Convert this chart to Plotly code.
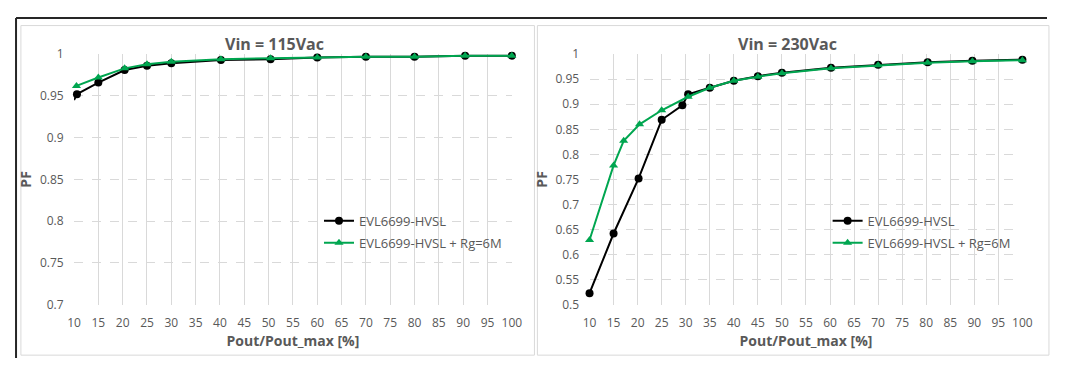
import plotly.graph_objects as go

# ---- Data: Vin = 115Vac ----
x115_lead = [10, 10.6]
pf115_lead = [0.945, 0.952]
x115_base = [10.6, 15, 20.4, 25, 30, 40.2, 50.4, 60, 70, 80, 90.4, 100]
pf115_base = [0.952, 0.966, 0.981, 0.986, 0.989, 0.993, 0.994, 0.996, 0.997, 0.997, 0.998, 0.998]
x115_rg = [10.5, 15, 20.4, 25, 30, 40.2, 50.4, 60, 70, 80, 90.4, 100]
pf115_rg = [0.962, 0.972, 0.983, 0.988, 0.991, 0.994, 0.995, 0.996, 0.997, 0.997, 0.998, 0.998]

# ---- Data: Vin = 230Vac ----
x230_base = [10, 15, 20.2, 25, 29.3, 30.5, 35, 40, 45, 50, 60.2, 70, 80.3, 89.6, 100]
pf230_base = [0.523, 0.642, 0.752, 0.869, 0.898, 0.920, 0.933, 0.947, 0.956, 0.963, 0.973, 0.979, 0.984, 0.987, 0.989]
x230_rg = [10, 15, 17.1, 20.4, 25, 30.5, 35, 40, 45, 50, 60.2, 70, 80.3, 89.6, 100]
pf230_rg = [0.629, 0.778, 0.827, 0.860, 0.888, 0.915, 0.933, 0.947, 0.955, 0.962, 0.972, 0.978, 0.983, 0.986, 0.988]

x_ticks = list(range(10, 101, 5))
y115_ticks = [0.7, 0.75, 0.8, 0.85, 0.9, 0.95, 1]
y230_ticks = [0.5, 0.55, 0.6, 0.65, 0.7, 0.75, 0.8, 0.85, 0.9, 0.95, 1]

name_base = "EVL6699-HVSL"
name_rg = "EVL6699-HVSL + Rg=6M"
titles = ["Vin = 115Vac", "Vin = 230Vac"]
x_title = "Pout/Pout_max [%]"
y_title = "PF"

BLACK = "#000000"
GREEN = "#00A650"
TXT = "#595959"
PAGE_W, PAGE_H = 1065, 374
OFF = 8  # default page body margin
W, H = PAGE_W - 2 * OFF, PAGE_H - 2 * OFF
FONT = "Open Sans"


def px_x(p):
    return (p - OFF) / W


def px_y(p):
    return 1 - (p - OFF) / H


fig = go.Figure()


def add_series(x, y, name, color, symbol, xa, ya, leg, show=True, msize=8):
    fig.add_trace(go.Scatter(
        x=x, y=y, name=name, mode="lines+markers" if msize else "lines",
        line=dict(color=color, width=2),
        marker=dict(symbol=symbol, size=msize if msize else 1, color=color),
        xaxis=xa, yaxis=ya, legend=leg, showlegend=show, cliponaxis=False,
        hoverinfo="skip"))


add_series(x115_lead, pf115_lead, name_base, BLACK, "circle", "x", "y", "legend", show=False, msize=0)
add_series(x115_base, pf115_base, name_base, BLACK, "circle", "x", "y", "legend")
add_series(x115_rg, pf115_rg, name_rg, GREEN, "triangle-up", "x", "y", "legend2")
add_series(x230_base, pf230_base, name_base, BLACK, "circle", "x2", "y2", "legend3")
add_series(x230_rg, pf230_rg, name_rg, GREEN, "triangle-up", "x2", "y2", "legend4")

axis_common = dict(
    showline=False, zeroline=False, ticks="outside", ticklen=7, tickcolor="rgba(0,0,0,0)",
    tickfont=dict(family=FONT, size=12, color=TXT),
    title_font=dict(family=FONT, size=14, color=TXT),
)

ydom = [px_y(310), px_y(47)]


def legend_at(xp, yp):
    return dict(x=px_x(xp), y=px_y(yp), xanchor="left", yanchor="middle",
                bgcolor="rgba(0,0,0,0)", font=dict(family=FONT, size=13, color=TXT),
                itemwidth=30)


fig.update_layout(
    width=W, height=H,
    margin=dict(l=0, r=0, t=0, b=0),
    paper_bgcolor="white", plot_bgcolor="white",
    font=dict(family=FONT, color=TXT),
    xaxis=dict(domain=[px_x(68), px_x(513)], range=[10, 100], tickvals=x_ticks,
               showgrid=True, gridcolor="#d9d9d9", gridwidth=1, anchor="y",
               title=dict(text="<b>" + x_title + "</b>", standoff=6), **axis_common),
    yaxis=dict(domain=ydom, range=[0.7, 1.0], tickvals=y115_ticks,
               ticktext=[f"{v:g}" for v in y115_ticks],
               showgrid=True, gridcolor="#d9d9d9", griddash="dash", gridwidth=1, anchor="x",
               title=dict(text="<b>" + y_title + "</b>", standoff=4), **axis_common),
    xaxis2=dict(domain=[px_x(592), px_x(1032)], range=[10, 100], tickvals=x_ticks,
                showgrid=True, gridcolor="#d9d9d9", gridwidth=1, anchor="y2",
                title=dict(text="<b>" + x_title + "</b>", standoff=6), **axis_common),
    yaxis2=dict(domain=ydom, range=[0.5, 1.0], tickvals=y230_ticks,
                ticktext=[f"{v:g}" for v in y230_ticks],
                showgrid=True, gridcolor="#d9d9d9", griddash="dash", gridwidth=1, anchor="x2",
                title=dict(text="<b>" + y_title + "</b>", standoff=4), **axis_common),
    legend=legend_at(317, 222),
    legend2=legend_at(317, 245),
    legend3=legend_at(834, 222),
    legend4=legend_at(834, 245),
    showlegend=True,
    hovermode=False,
)

# Titles
for t, xc in zip(titles, [272, 793]):
    fig.add_annotation(text="<b>" + t + "</b>", x=px_x(xc), y=px_y(36), xref="paper", yref="paper",
                       showarrow=False, font=dict(family=FONT, size=16, color=TXT),
                       xanchor="center", yanchor="middle")

# Chart boxes (light grey) and outer black frame
for (x0, x1) in [(14, 536), (539, 1059)]:
    fig.add_shape(type="rect", xref="paper", yref="paper", x0=px_x(x0), x1=px_x(x1), y0=px_y(363), y1=px_y(17),
                  line=dict(color="#d9d9d9", width=1), fillcolor="rgba(0,0,0,0)", layer="below")
fig.add_shape(type="line", xref="paper", yref="paper", x0=0.001, x1=1, y0=0.997, y1=0.997,
              line=dict(color="#262626", width=2))
fig.add_shape(type="line", xref="paper", yref="paper", x0=0.001, x1=0.001, y0=0, y1=0.997,
              line=dict(color="#262626", width=2))

fig.write_html("out.html", config={"displayModeBar": False})
